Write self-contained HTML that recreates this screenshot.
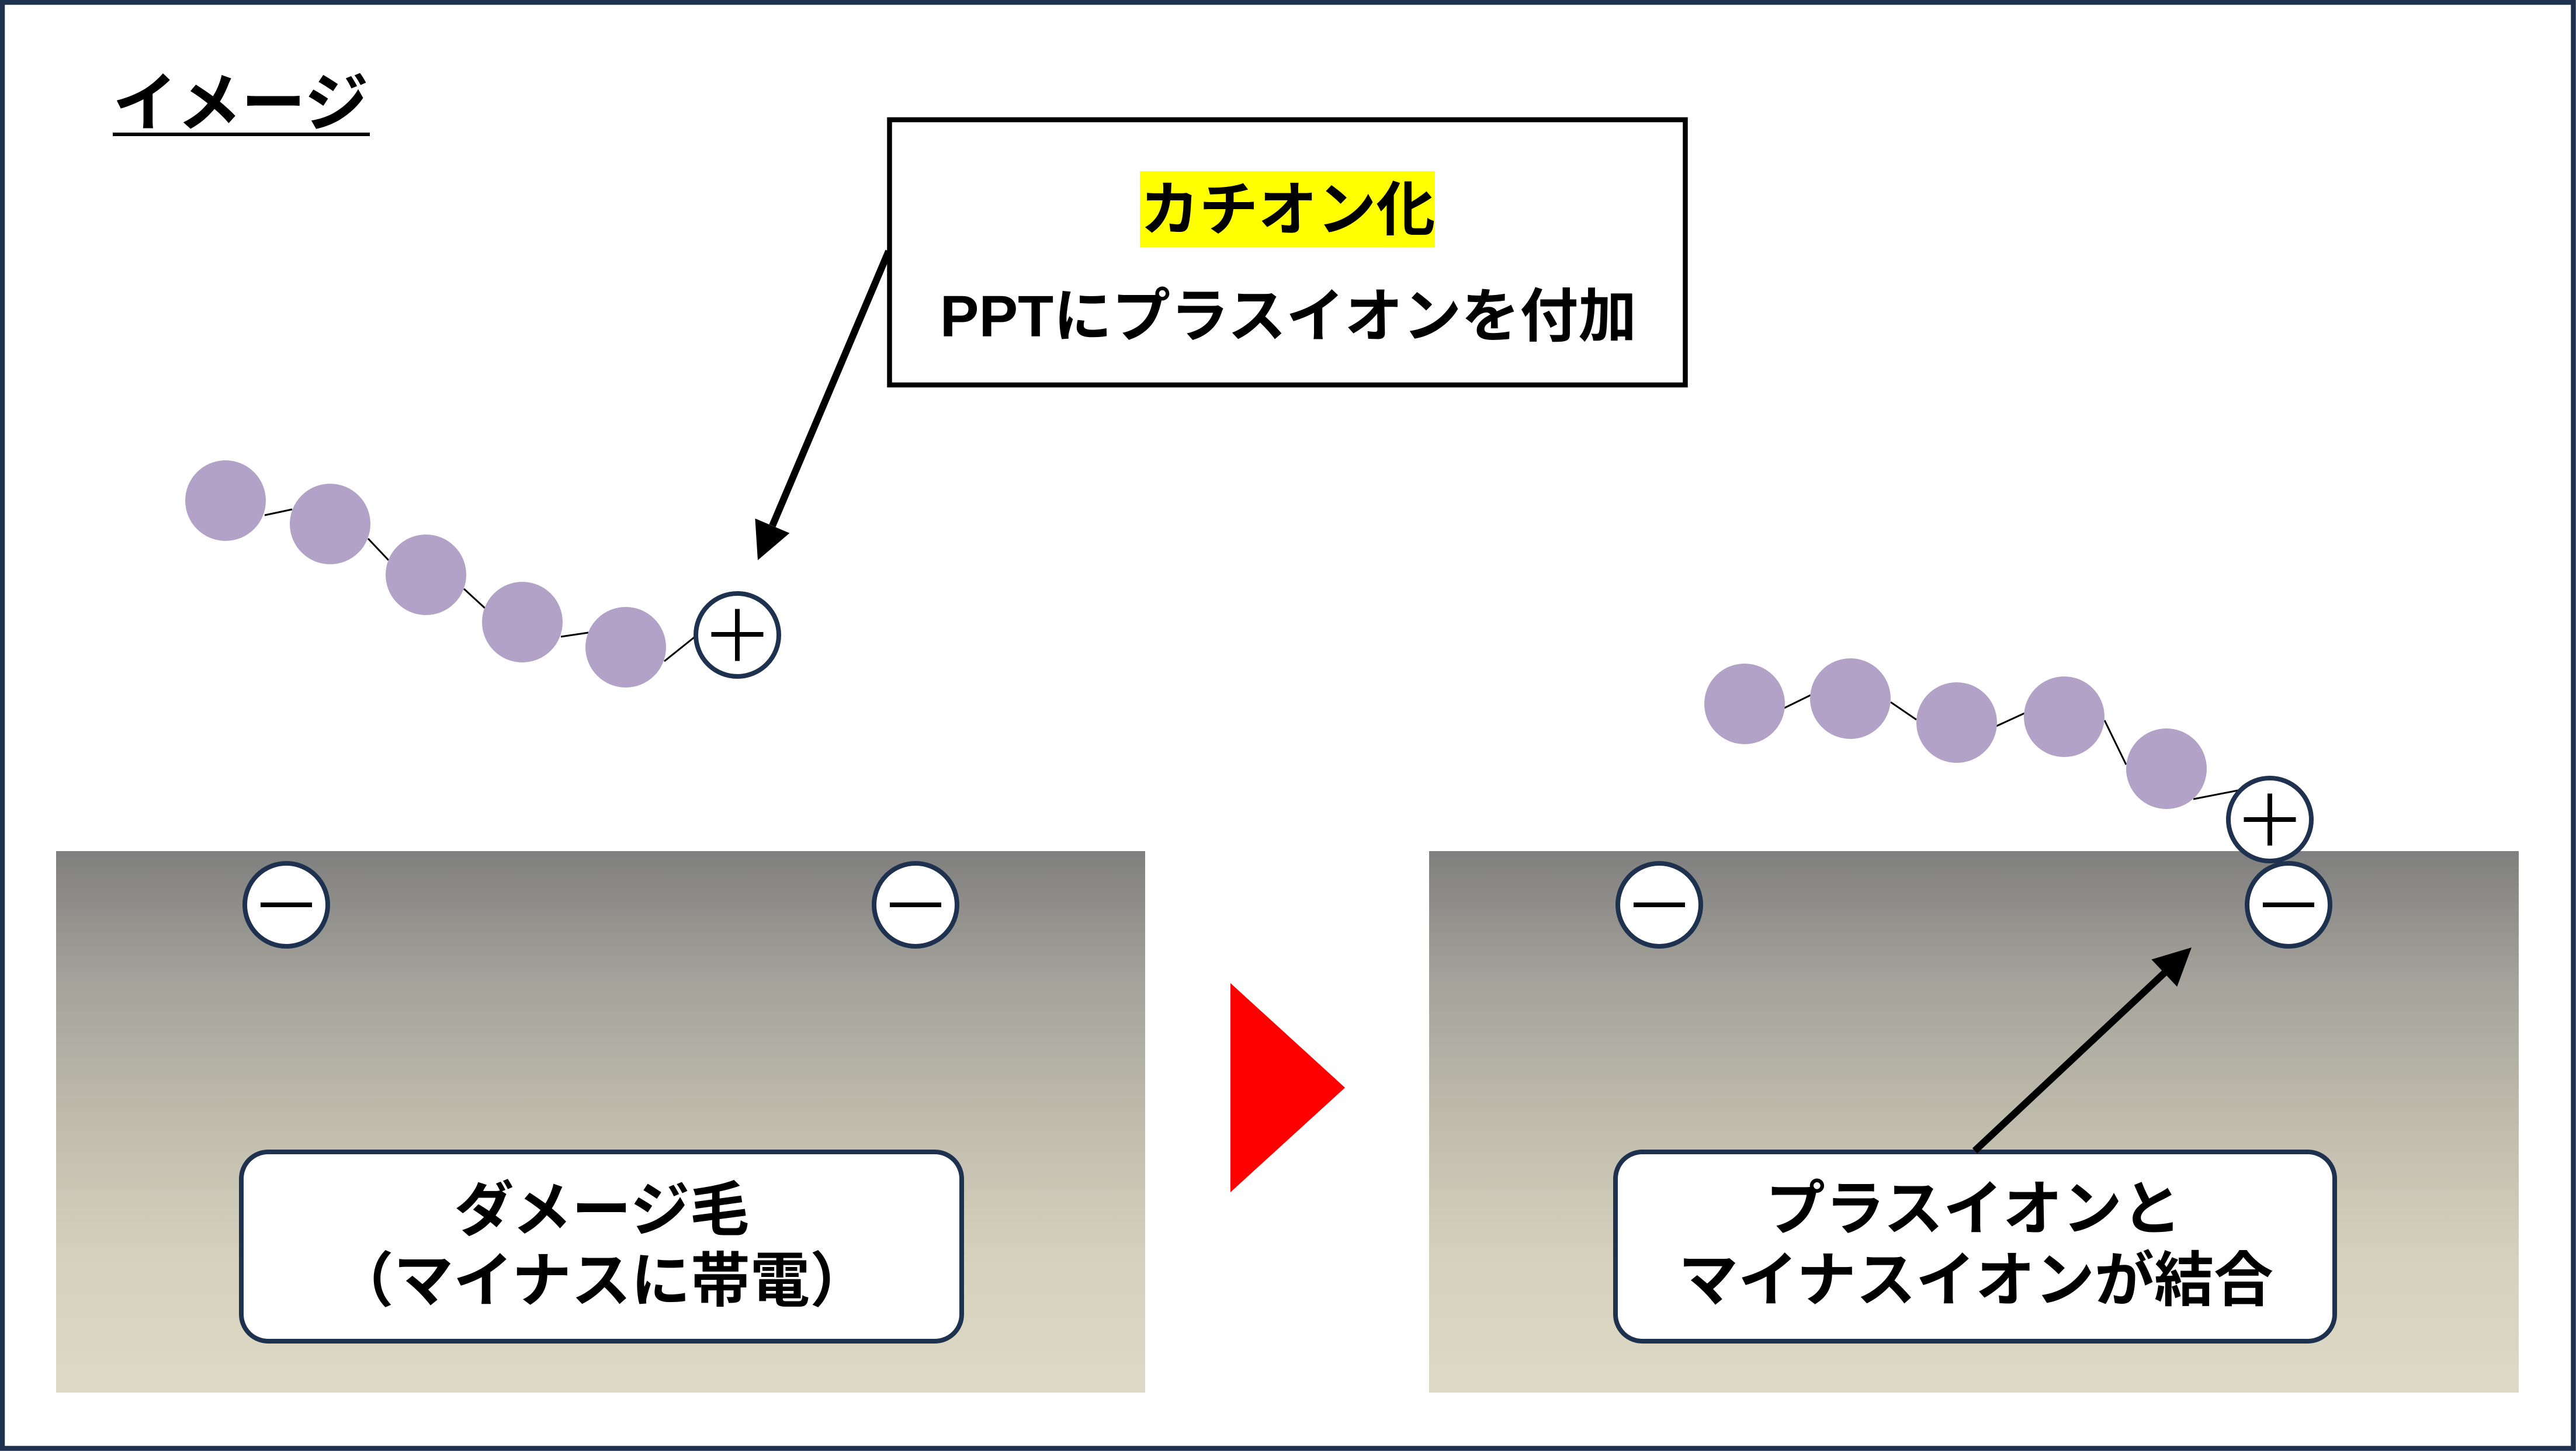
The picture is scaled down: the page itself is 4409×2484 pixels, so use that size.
<!DOCTYPE html>
<html><head><meta charset="utf-8">
<style>
html,body{margin:0;padding:0;background:#fff;}
body{width:4409px;height:2484px;overflow:hidden;}
svg{display:block;}
text{font-family:"Liberation Sans","Noto Sans CJK JP",sans-serif;font-weight:bold;fill:#000;}
</style></head>
<body>
<svg width="4409" height="2484" viewBox="0 0 4409 2484" xmlns="http://www.w3.org/2000/svg">
<defs>
<linearGradient id="g" x1="0" y1="0" x2="0" y2="1">
<stop offset="0" stop-color="#7f7f7f"/>
<stop offset="0.25" stop-color="#a6a49b"/>
<stop offset="0.5" stop-color="#bfbcad"/>
<stop offset="0.75" stop-color="#d5d1bd"/>
<stop offset="1" stop-color="#ddd9c4"/>
</linearGradient>
</defs>
<rect x="0" y="0" width="4409" height="2484" fill="#fff"/>
<!-- outer frame -->
<rect x="4" y="4" width="4400.5" height="2475.5" fill="none" stroke="#1e3250" stroke-width="8.5"/>

<!-- title -->
<text x="193" y="215" font-size="110">イメージ</text>
<rect x="193" y="227" width="440" height="6" fill="#000"/>

<!-- callout -->
<rect x="1522.5" y="205" width="1362" height="454" fill="#fff" stroke="#000" stroke-width="8.5"/>
<rect x="1951" y="293" width="505" height="130" fill="#ffff00"/>
<text x="2204" y="394" font-size="101" text-anchor="middle">カチオン化</text>
<text x="2205" y="576" font-size="100" text-anchor="middle">PPTにプラスイオンを付加</text>

<!-- left arrow -->
<line x1="1521" y1="430" x2="1322" y2="900" stroke="#000" stroke-width="12"/>
<polygon points="1297,959 1351.4,912.6 1292.4,887.6" fill="#000"/>

<!-- left molecule connectors -->
<g stroke="#000" stroke-width="3">
<line x1="453" y1="882" x2="500" y2="872"/>
<line x1="630" y1="922" x2="665" y2="959"/>
<line x1="794" y1="1008" x2="831" y2="1042"/>
<line x1="960" y1="1090" x2="1007" y2="1083"/>
<line x1="1137" y1="1132" x2="1192" y2="1088"/>
</g>
<g fill="#b3a2c7">
<circle cx="386" cy="857" r="69"/>
<circle cx="565" cy="897" r="69"/>
<circle cx="729" cy="984" r="69"/>
<circle cx="894" cy="1065" r="69"/>
<circle cx="1071" cy="1108" r="69"/>
</g>
<circle cx="1262" cy="1087" r="71" fill="#fff" stroke="#1e3250" stroke-width="8"/>
<rect x="1217.5" y="1082" width="89" height="8" fill="#000"/>
<rect x="1258" y="1042.5" width="8" height="89" fill="#000"/>

<!-- panels -->
<rect x="96" y="1457" width="1864" height="927" fill="url(#g)"/>
<rect x="2446" y="1457" width="1865" height="927" fill="url(#g)"/>

<!-- red triangle -->
<polygon points="2106,1683 2106,2041 2302,1862" fill="#ff0000"/>

<!-- minus ions -->
<g fill="#fff" stroke="#1e3250" stroke-width="8">
<circle cx="490" cy="1549" r="71"/>
<circle cx="1567" cy="1549" r="71"/>
<circle cx="2840" cy="1549" r="71"/>
<circle cx="3917" cy="1549" r="71"/>
</g>
<g fill="#000">
<rect x="446" y="1545" width="88" height="8"/>
<rect x="1523" y="1545" width="88" height="8"/>
<rect x="2796" y="1545" width="88" height="8"/>
<rect x="3873" y="1545" width="88" height="8"/>
</g>

<!-- right molecule connectors -->
<g stroke="#000" stroke-width="3">
<line x1="3054" y1="1212" x2="3099" y2="1190"/>
<line x1="3236" y1="1202" x2="3280" y2="1232"/>
<line x1="3417" y1="1243" x2="3465" y2="1221"/>
<line x1="3602" y1="1233" x2="3639" y2="1309"/>
<line x1="3754" y1="1368" x2="3831" y2="1353"/>
</g>
<g fill="#b3a2c7">
<circle cx="2986" cy="1205" r="69"/>
<circle cx="3167" cy="1196" r="69"/>
<circle cx="3349" cy="1237" r="69"/>
<circle cx="3533" cy="1227" r="69"/>
<circle cx="3708" cy="1316" r="69"/>
</g>
<circle cx="3885" cy="1403" r="71" fill="#fff" stroke="#1e3250" stroke-width="8"/>
<rect x="3840.5" y="1399" width="89" height="8" fill="#000"/>
<rect x="3881" y="1358.5" width="8" height="89" fill="#000"/>

<!-- label boxes -->
<rect x="413" y="1972" width="1233" height="324" rx="46" ry="46" fill="#fff" stroke="#1e3250" stroke-width="8"/>
<text x="1030" y="2107" font-size="102" text-anchor="middle">ダメージ毛</text>
<text x="1030" y="2228" font-size="102" text-anchor="middle">（マイナスに帯電）</text>

<rect x="2765" y="1972" width="1231" height="324" rx="46" ry="46" fill="#fff" stroke="#1e3250" stroke-width="8"/>
<text x="3378" y="2105" font-size="102" text-anchor="middle">プラスイオンと</text>
<text x="3382" y="2227" font-size="102" text-anchor="middle">マイナスイオンが結合</text>

<!-- right arrow -->
<line x1="3380" y1="1970" x2="3704.3" y2="1665.8" stroke="#000" stroke-width="12"/>
<polygon points="3751,1622 3726.2,1689.1 3682.4,1642.5" fill="#000"/>
</svg>
</body></html>
